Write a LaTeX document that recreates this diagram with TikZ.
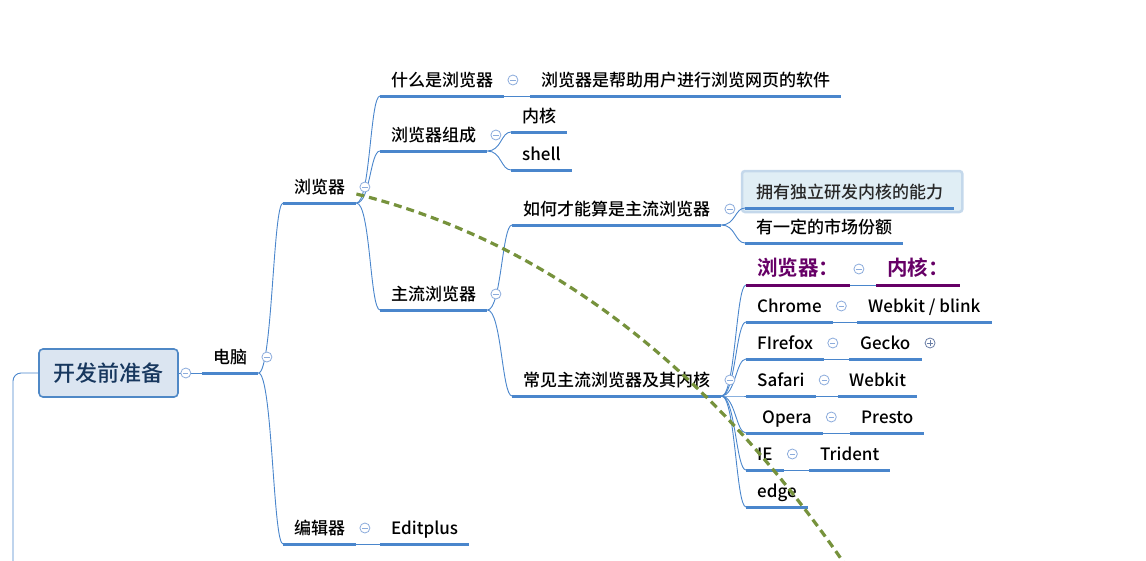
\documentclass[tikz,border=0pt]{standalone}
\usepackage{fontspec}
\setmainfont{Noto Sans CJK SC}[UprightFont=* Medium, BoldFont=* Bold]
\usetikzlibrary{backgrounds}
\definecolor{lineblue}{RGB}{74,134,204}
\definecolor{circblue}{RGB}{140,172,220}
\definecolor{plusgray}{RGB}{105,125,165}
\definecolor{purp}{RGB}{102,0,102}
\definecolor{relgreen}{RGB}{118,146,60}
\definecolor{rootfill}{RGB}{219,229,241}
\definecolor{rootline}{RGB}{79,136,198}
\definecolor{roottext}{RGB}{23,55,94}
\definecolor{hlfill}{RGB}{224,238,245}
\definecolor{hlline}{RGB}{196,216,235}
\definecolor{hltext}{RGB}{40,40,40}
\tikzset{
  topic/.style={anchor=south west, inner xsep=11pt, inner ysep=6pt, text height=12pt, text depth=3.5pt, font=\fontsize{17}{20}\selectfont, text=black},
  ptopic/.style={topic, font=\fontsize{20.5}{24}\selectfont\bfseries, text=purp},
  uline/.style={draw=lineblue, line width=3pt},
  puline/.style={draw=purp, line width=3pt},
  conn/.style={draw=lineblue, line width=0.9pt},
  fold/.style={circle, draw=circblue, fill=white, line width=0.8pt, minimum size=10pt, inner sep=0pt,
    path picture={\draw[circblue, line width=0.9pt] ([xshift=-2.6pt]path picture bounding box.center) -- ([xshift=2.6pt]path picture bounding box.center);}},
  unfold/.style={circle, draw=plusgray, fill=white, line width=0.8pt, minimum size=10pt, inner sep=0pt,
    path picture={\draw[plusgray, line width=0.9pt] ([xshift=-2.6pt]path picture bounding box.center) -- ([xshift=2.6pt]path picture bounding box.center) ([yshift=-2.6pt]path picture bounding box.center) -- ([yshift=2.6pt]path picture bounding box.center);}},
  rootbox/.style={draw=rootline, fill=rootfill, line width=1.6pt, rounded corners=4pt, minimum width=139pt, minimum height=48pt, inner sep=0pt, font=\fontsize{22}{26}\selectfont, text=roottext},
  hlbox/.style={draw=hlline, fill=hlfill, line width=2.5pt, rounded corners=3pt},
  rel/.style={draw=relgreen, line width=3.2pt, dash pattern=on 8pt off 5pt},
}
\newcommand\mmbranch[2]{\draw[conn] (#1.south east) .. controls ([xshift=14pt]#1.south east) and ([xshift=-10pt]#2.south west) .. (#2.south west);}
\newcommand\mmpair[2]{\draw[conn] (#1.south east) -- (#2.south west);}
\newcommand\mmfold[2]{\node[fold] (#2) at ([shift={(8.5,-16)}]#1.south east) {};}
\begin{document}
\begin{tikzpicture}[x=1pt, y=-1pt]
\useasboundingbox (0,0) rectangle (1146,560);

% root
\node[rootbox] (root) at (108.5,373) {开发前准备};

% topics
\node[topic] (dn) at (202,373) {电脑};
\node[topic] (llq) at (283,203) {浏览器};
\node[topic] (bjq) at (283,544) {编辑器};
\node[topic] (editplus) at (380,544) {Editplus};
\node[topic] (what) at (380,96) {什么是浏览器};
\node[topic] (whatans) at (530,96) {浏览器是帮助用户进行浏览网页的软件};
\node[topic] (comp) at (380,151) {浏览器组成};
\node[topic] (nh) at (511,132) {内核};
\node[topic] (shell) at (511,170) {shell};
\node[topic] (main) at (380,310) {主流浏览器};
\node[topic] (how) at (512,225) {如何才能算是主流浏览器};
\node[topic, text=hltext] (hl) at (745,208) {拥有独立研发内核的能力};
\node[topic] (share) at (745,243) {有一定的市场份额};
\node[topic] (common) at (512,396) {常见主流浏览器及其内核};
\node[ptopic] (hb) at (746,285) {浏览器：};
\node[ptopic] (hk) at (876,285) {内核：};
\node[topic] (chrome) at (746,322) {Chrome};
\node[topic] (webkitb) at (857,322) {Webkit / blink};
\node[topic] (firefox) at (746,359) {FIrefox};
\node[topic] (gecko) at (849,359) {Gecko};
\node[topic] (safari) at (746,396) {Safari};
\node[topic] (webkit) at (838,396) {Webkit};
\node[topic] (opera) at (746,433) {\hspace*{5pt}Opera};
\node[topic] (presto) at (850,433) {Presto};
\node[topic] (ie) at (746,470) {IE};
\node[topic] (trident) at (809,470) {Trident};
\node[topic] (edge) at (746,507) {edge};

% highlight box behind
\begin{scope}[on background layer]
\draw[hlbox] ([shift={(-3,4)}]hl.south west) rectangle ([shift={(8,-37)}]hl.south east);
\end{scope}

% connectors
\coordinate (below) at (13,563);
\draw[conn, rounded corners=8pt] (root.west) -| (below);
\draw[conn] (root.east) -- (dn.south west);
\mmbranch{dn}{llq}
\mmbranch{dn}{bjq}
\mmpair{bjq}{editplus}
\mmbranch{llq}{what}
\mmbranch{llq}{comp}
\mmbranch{llq}{main}
\mmpair{what}{whatans}
\mmbranch{comp}{nh}
\mmbranch{comp}{shell}
\mmbranch{main}{how}
\mmbranch{main}{common}
\mmbranch{how}{hl}
\mmbranch{how}{share}
\foreach \c in {hb,chrome,firefox,safari,opera,ie,edge} {\mmbranch{common}{\c}}
\mmpair{hb}{hk}
\mmpair{chrome}{webkitb}
\mmpair{firefox}{gecko}
\mmpair{safari}{webkit}
\mmpair{opera}{presto}
\mmpair{ie}{trident}

% underlines
\foreach \n in {dn,llq,bjq,editplus,what,whatans,comp,nh,shell,main,how,hl,share,common,chrome,webkitb,firefox,gecko,safari,webkit,opera,presto,ie,trident,edge}
  {\draw[uline] (\n.south west) -- (\n.south east);}
\draw[puline] (hb.south west) -- (hb.south east);
\draw[puline] (hk.south west) -- (hk.south east);

% fold markers
\node[fold] (frootc) at ([xshift=7pt]root.east) {};
\mmfold{dn}{fdn}
\mmfold{llq}{fllq}
\mmfold{bjq}{fbjq}
\mmfold{what}{fwhat}
\mmfold{comp}{fcomp}
\mmfold{main}{fmain}
\mmfold{how}{fhow}
\mmfold{common}{fcommon}
\mmfold{hb}{fhb}
\mmfold{chrome}{fchrome}
\mmfold{firefox}{ffirefox}
\mmfold{safari}{fsafari}
\mmfold{opera}{fopera}
\mmfold{ie}{fie}
\node[unfold] (fgecko) at ([shift={(8.5,-16)}]gecko.south east) {};

% relationship
\coordinate (relS) at ([shift={(0,-9)}]llq.south east);
\coordinate (relE) at (844,563);
\draw[rel] (relS) .. controls (544,241) and (706,363) .. (relE);
\end{tikzpicture}
\end{document}
